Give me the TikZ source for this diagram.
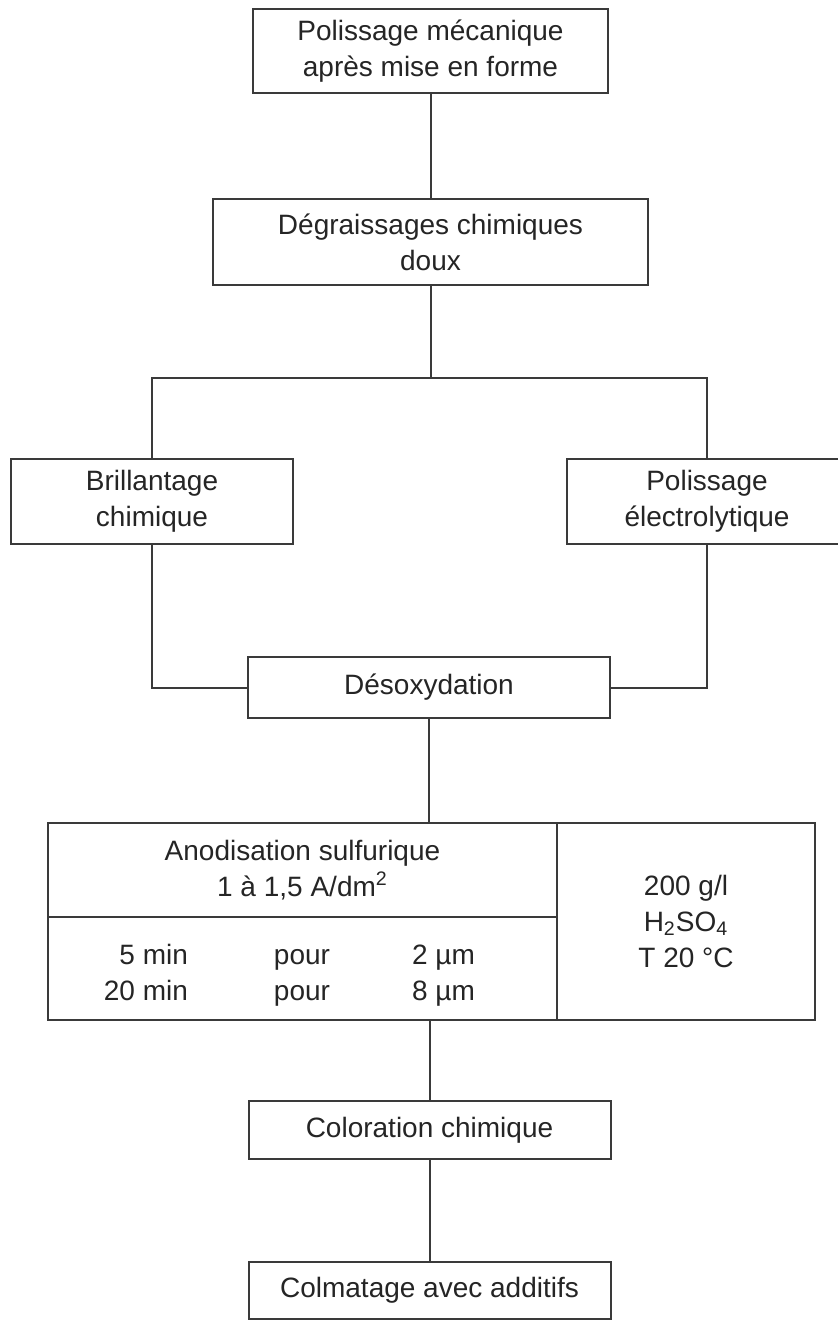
\documentclass[tikz,border=0pt]{standalone}
\usepackage{fontspec}
\setmainfont{Liberation Sans}
\usepackage{tikz}
\usetikzlibrary{positioning}
\usepackage{xcolor}
\definecolor{linegray}{HTML}{3A3A3A}
\definecolor{textgray}{HTML}{252525}
\newcommand{\boxfont}{\fontsize{14}{18}\selectfont}

\begin{document}
\begin{tikzpicture}[x=0.5pt, y=-0.5pt,
  every node/.style={font=\boxfont, text=textgray},
  stepbox/.style={draw=linegray, line width=1pt, fill=white, inner sep=0pt, align=center},
  link/.style={draw=linegray, line width=1pt}]

\useasboundingbox (0,0) rectangle (838,1320);

% --- preparation ---
\node[stepbox, minimum width=177.5pt, minimum height=42pt] (poli) at (430.5,51)
     {Polissage mécanique\\après mise en forme};
\node[stepbox, minimum width=217.5pt, minimum height=43pt] (degr) at (430.5,242)
     {Dégraissages chimiques\\doux};
\coordinate (fork) at (430.5,378);

% --- two branches ---
\node[stepbox, minimum width=141pt, minimum height=42.5pt] (brill) at (152,501.5)
     {Brillantage\\chimique};
\node[stepbox, minimum width=140pt, minimum height=42.5pt] (polel) at (707,501.5)
     {Polissage\\électrolytique};
\node[stepbox, minimum width=181pt, minimum height=30.5pt] (desox) at (429,687.5)
     {Désoxydation};

% --- anodisation table ---
\node[stepbox, minimum width=254.5pt, minimum height=47pt] (anodtop) at (302.5,870)
     {Anodisation sulfurique\\1 à 1,5 A/dm\textsuperscript{2}};
\node[stepbox, minimum width=254.5pt, minimum height=51.5pt] (anodrows) at (302.5,968.5) {};
\node[stepbox, minimum width=129pt, minimum height=98.5pt] (anodbath) at (686,921.5)
     {200 g/l\\H\textsubscript{2}SO\textsubscript{4}\\T 20 °C};
\node[anchor=east, align=right] (anodmin) at (195,975.5) {5 min\strut\\20 min\strut};
\node[align=center] (anodpour) at (302,975.5) {pour\strut\\pour\strut};
\node[anchor=west, align=left] (anodum) at (405,975.5) {2 µm\strut\\8 µm\strut};

% --- finishing ---
\node[stepbox, minimum width=181pt, minimum height=29pt] (color) at (429.5,1130)
     {Coloration chimique};
\node[stepbox, minimum width=181pt, minimum height=28.5pt] (colmat) at (429.5,1290.5)
     {Colmatage avec additifs};

% --- connectors ---
\draw[link] (poli.south) -- (degr.north);
\draw[link] (degr.south) -- (fork);
\draw[link] (brill.north) -- (brill.north |- fork) -- (polel.north |- fork) -- (polel.north);
\draw[link] (brill.south) |- (desox.west);
\draw[link] (polel.south) |- (desox.east);
\draw[link] (desox.south) -- (desox.south |- anodtop.north);
\draw[link] (anodrows.south -| color.north) -- (color.north);
\draw[link] (color.south) -- (colmat.north);

\end{tikzpicture}
\end{document}
